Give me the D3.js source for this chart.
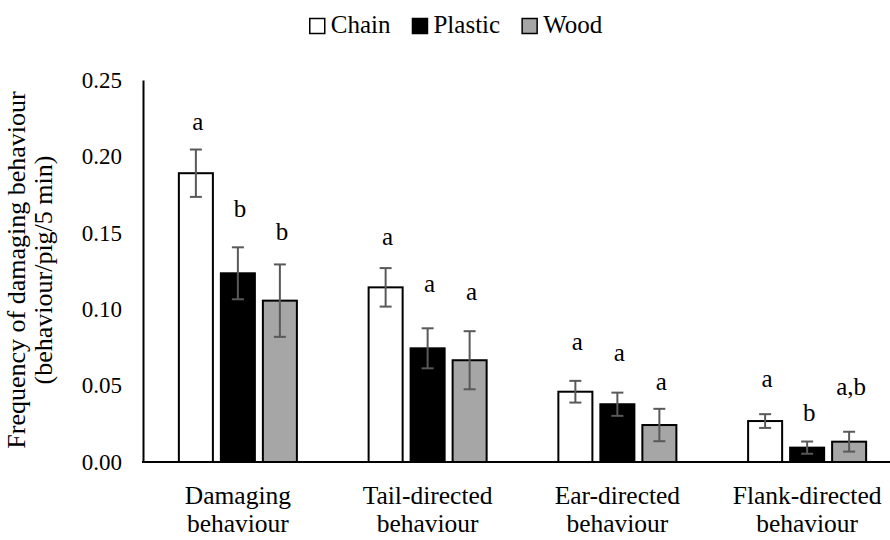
<!DOCTYPE html>
<html>
<head>
<meta charset="utf-8">
<script src="https://cdn.jsdelivr.net/npm/d3@7"></script>
<style>
  html, body { margin: 0; padding: 0; background: #fff; }
  svg { display: block; }
  svg text, svg tspan { font-family: "Liberation Serif", "Times New Roman", serif !important; fill: #000; }
</style>
</head>
<body>
<svg id="chart" width="890" height="540" font-family="Liberation Serif, serif"></svg>
<script>
// ---- data ----
const categories = [["Damaging", "behaviour"], ["Tail-directed", "behaviour"], ["Ear-directed", "behaviour"], ["Flank-directed", "behaviour"]];
const series = ["Chain", "Plastic", "Wood"];
const chainValues   = [0.189, 0.1143, 0.046, 0.0268];
const plasticValues = [0.1235, 0.0744, 0.0378, 0.0094];
const woodValues    = [0.1056, 0.0666, 0.0242, 0.0133];
const chainErrors   = [0.0155, 0.0126, 0.0071, 0.0045];
const plasticErrors = [0.017, 0.0131, 0.0076, 0.004];
const woodErrors    = [0.0237, 0.019, 0.0106, 0.0065];
const chainLetters   = ["a", "a", "a", "a"];
const plasticLetters = ["b", "a", "a", "b"];
const woodLetters    = ["b", "a", "a", "a,b"];
// letter positions in data units
const chainLetterY   = [0.2225, 0.147, 0.078, 0.054];
const plasticLetterY = [0.165, 0.116, 0.071, 0.032];
const woodLetterY    = [0.150, 0.111, 0.052, 0.049];
const yTicks = [0, 0.05, 0.10, 0.15, 0.20, 0.25];
const yTitle = ["Frequency of damaging behaviour", "(behaviour/pig/5 min)"];

(function () {
const FONT = "Liberation Serif, serif";
// ---- build table ----
const valueArrays = [chainValues, plasticValues, woodValues];
const errorArrays = [chainErrors, plasticErrors, woodErrors];
const letterArrays = [chainLetters, plasticLetters, woodLetters];
const letterYArrays = [chainLetterY, plasticLetterY, woodLetterY];
const catKeys = categories.map(c => c.join(" "));
const rows = [];
catKeys.forEach((c, i) => {
  series.forEach((s, j) => {
    rows.push({cat: c, series: s, value: valueArrays[j][i], err: errorArrays[j][i],
               letter: letterArrays[j][i], letterY: letterYArrays[j][i]});
  });
});

const fills = {Chain: "#ffffff", Plastic: "#000000", Wood: "#a6a6a6"};

const svg = d3.select("#chart");
const mLeft = 143, mRight = 902, mTop = 80, mBottom = 462;

const x0 = d3.scaleBand().domain(catKeys).range([mLeft, mRight]).paddingInner(0).paddingOuter(0);
const x1 = d3.scaleBand().domain(series).range([0, 126]).paddingInner(0.19).paddingOuter(0.095);
const y = d3.scaleLinear().domain([0, 0.25]).range([mBottom, mTop]);

const groupStart = c => x0(c) + x0.bandwidth() / 2 - 63;

// bars
svg.append("g").selectAll("rect").data(rows).join("rect")
  .attr("x", d => groupStart(d.cat) + x1(d.series))
  .attr("y", d => y(d.value))
  .attr("width", x1.bandwidth())
  .attr("height", d => y(0) - y(d.value))
  .attr("fill", d => fills[d.series])
  .attr("stroke", "#000")
  .attr("stroke-width", 2);

// error bars
const eg = svg.append("g").attr("stroke", "#595959").attr("stroke-width", 2);
rows.forEach(d => {
  const cx = groupStart(d.cat) + x1(d.series) + x1.bandwidth() / 2;
  eg.append("line").attr("x1", cx).attr("x2", cx).attr("y1", y(d.value + d.err)).attr("y2", y(d.value - d.err));
  eg.append("line").attr("x1", cx - 6).attr("x2", cx + 6).attr("y1", y(d.value + d.err)).attr("y2", y(d.value + d.err));
  eg.append("line").attr("x1", cx - 6).attr("x2", cx + 6).attr("y1", y(d.value - d.err)).attr("y2", y(d.value - d.err));
});

// significance letters
svg.append("g").selectAll("text").data(rows).join("text")
  .attr("x", d => groupStart(d.cat) + x1(d.series) + x1.bandwidth() / 2 + 2)
  .attr("y", d => y(d.letterY))
  .attr("dy", "0.3em")
  .attr("text-anchor", "middle")
  .style("font-family", FONT)
  .style("font-size", "25px")
  .text(d => d.letter);

// y axis
const yAxis = d3.axisLeft(y).tickValues(yTicks).tickFormat(d3.format(".2f")).tickSize(0).tickPadding(21);
const yg = svg.append("g").attr("transform", `translate(${mLeft},0)`).call(yAxis).attr("font-family", FONT);
yg.select(".domain").attr("stroke", "#000").attr("stroke-width", 2);
yg.selectAll(".tick text").style("font-size", "23px").style("font-family", FONT).attr("fill", "#000");

// x baseline
const xAxis = d3.axisBottom(x0).tickSize(0).tickFormat("");
const xg = svg.append("g").attr("transform", `translate(0,${mBottom})`).call(xAxis);
xg.select(".domain").attr("stroke", "#000").attr("stroke-width", 2).attr("d", `M${mLeft - 1},0H${mRight}`);

// x labels
categories.forEach((lines, i) => {
  const cx = x0(catKeys[i]) + x0.bandwidth() / 2;
  const t = svg.append("text").attr("text-anchor", "middle").style("font-family", FONT).style("font-size", "25.5px");
  lines.forEach((ln, k) => t.append("tspan").attr("x", cx).attr("y", 504 + k * 28).text(ln));
});

// y title
const yt = svg.append("text").attr("transform", "translate(0,270) rotate(-90)").attr("text-anchor", "middle")
  .style("font-family", FONT).style("font-size", "26px");
yTitle.forEach((ln, k) => yt.append("tspan").attr("x", 0).attr("y", 25 + k * 26.5).text(ln));

// legend
const lg = svg.append("g");
let lx = 0;
series.forEach(s => {
  const g = lg.append("g").attr("transform", `translate(${lx},0)`);
  g.append("rect").attr("x", 0).attr("y", 18.5).attr("width", 15).attr("height", 15)
    .attr("fill", fills[s]).attr("stroke", "#000").attr("stroke-width", 1.5);
  const t = g.append("text").attr("x", 21).attr("y", 33).style("font-family", FONT).style("font-size", "25px").text(s);
  const w = 21 + t.node().getComputedTextLength();
  lx += w + 22;
});
const totalW = lx - 22;
lg.attr("transform", `translate(${456 - totalW / 2},0)`);
})();
</script>
</body>
</html>
